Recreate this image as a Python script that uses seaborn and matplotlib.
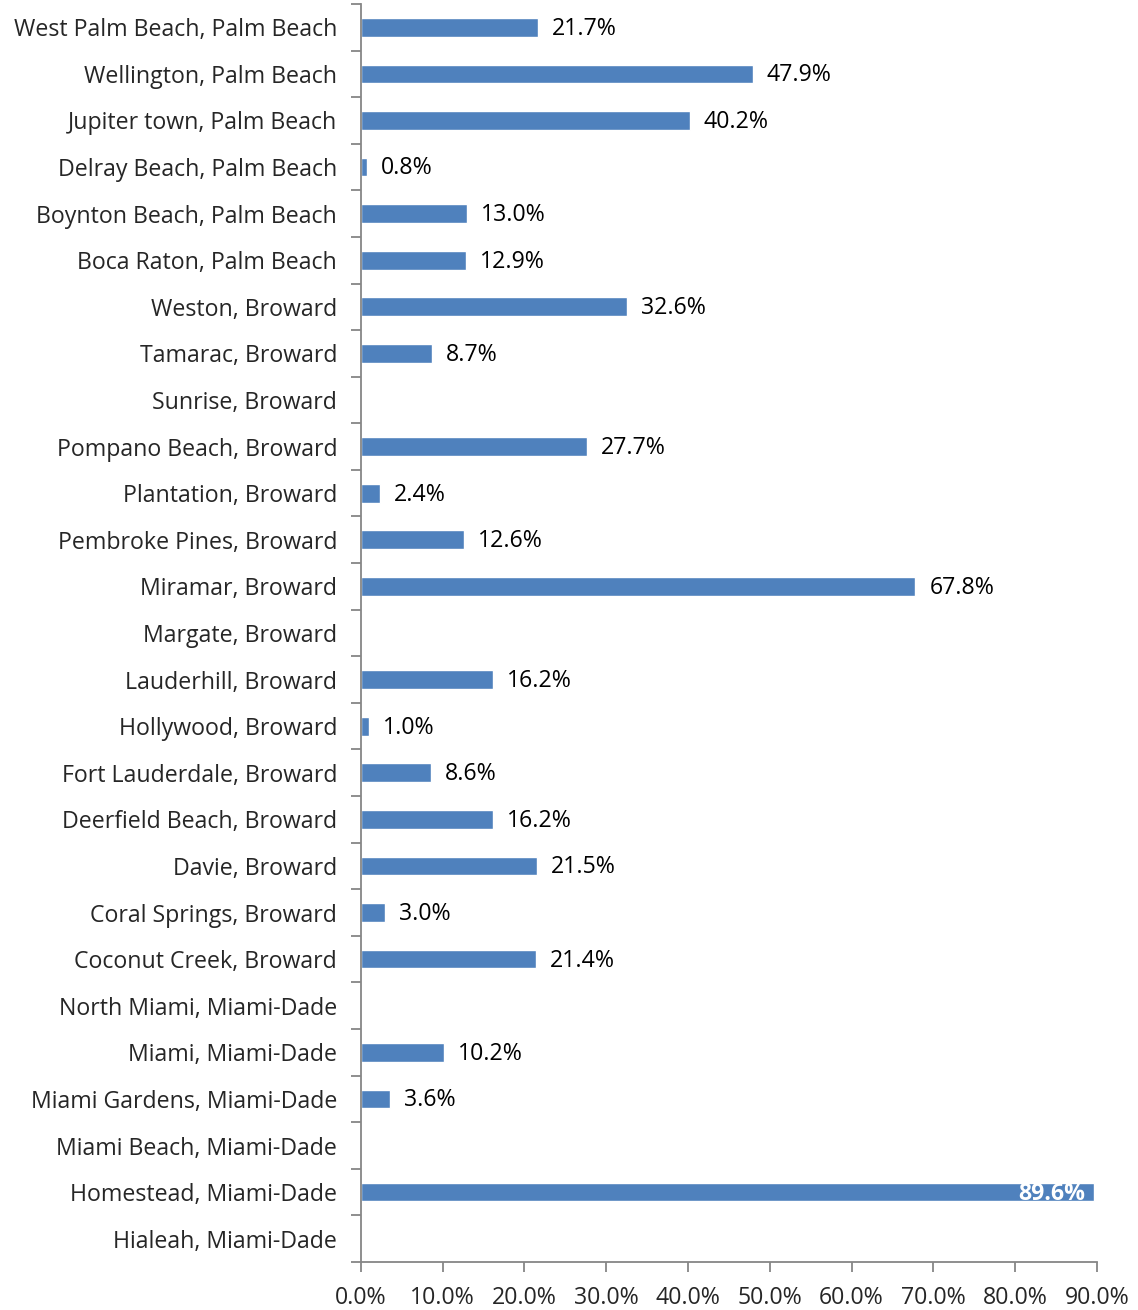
import numpy as np
import pandas as pd
import matplotlib
matplotlib.use("Agg")
import matplotlib.pyplot as plt
import seaborn as sns

# Data, top to bottom as in the chart
cities = [
    "West Palm Beach, Palm Beach", "Wellington, Palm Beach", "Jupiter town, Palm Beach",
    "Delray Beach, Palm Beach", "Boynton Beach, Palm Beach", "Boca Raton, Palm Beach",
    "Weston, Broward", "Tamarac, Broward", "Sunrise, Broward", "Pompano Beach, Broward",
    "Plantation, Broward", "Pembroke Pines, Broward", "Miramar, Broward", "Margate, Broward",
    "Lauderhill, Broward", "Hollywood, Broward", "Fort Lauderdale, Broward",
    "Deerfield Beach, Broward", "Davie, Broward", "Coral Springs, Broward",
    "Coconut Creek, Broward", "North Miami, Miami-Dade", "Miami, Miami-Dade",
    "Miami Gardens, Miami-Dade", "Miami Beach, Miami-Dade", "Homestead, Miami-Dade",
    "Hialeah, Miami-Dade",
]
pct = [21.7, 47.9, 40.2, 0.8, 13.0, 12.9, 32.6, 8.7, np.nan, 27.7, 2.4, 12.6, 67.8, np.nan,
       16.2, 1.0, 8.6, 16.2, 21.5, 3.0, 21.4, np.nan, 10.2, 3.6, np.nan, 89.6, np.nan]
x_ticks = [0, 10, 20, 30, 40, 50, 60, 70, 80, 90]

df = pd.DataFrame({"city": cities, "pct": pct})

sns.set_theme(style="white")
plt.rcParams["font.family"] = ["Open Sans", "DejaVu Sans"]
fs = 16.7

fig = plt.figure(figsize=(11.38, 13.10), dpi=100)
ax = fig.add_axes([0.317, 0.0366, 0.647, 0.9604])

sns.barplot(data=df, x="pct", y="city", color="#4F81BD", saturation=1, width=0.4, ax=ax)

for i, v in enumerate(pct):
    if np.isnan(v):
        continue
    if v > 85:
        ax.annotate(f"{v:.1f}%", (v, i), xytext=(-6, -1), textcoords="offset points",
                    ha="right", va="center", fontsize=fs, color="white", fontweight="bold")
    else:
        ax.annotate(f"{v:.1f}%", (v, i), xytext=(10, -1), textcoords="offset points",
                    ha="left", va="center", fontsize=fs, color="black")

ax.set_xlim(0, 90)
ax.set_ylim(len(cities) - 0.5, -0.5)
ax.set_xticks(x_ticks)
ax.set_xticklabels([f"{t:.1f}%" for t in x_ticks], fontsize=fs)
ax.set_yticks(range(len(cities)))
ax.set_yticklabels(cities, fontsize=fs)
ax.set_yticks(np.arange(-0.5, len(cities)), minor=True)
ax.tick_params(axis="y", which="major", length=0, pad=17)
ax.tick_params(axis="y", which="minor", length=7, width=1.3, color="#868686", left=True)
ax.tick_params(axis="x", length=7, width=1.3, color="#868686", bottom=True, pad=10)
ax.set_xlabel("")
ax.set_ylabel("")

for s in ["top", "right"]:
    ax.spines[s].set_visible(False)
for s in ["left", "bottom"]:
    ax.spines[s].set_color("#868686")
    ax.spines[s].set_linewidth(1.3)

fig.savefig("out.png", dpi=100)
